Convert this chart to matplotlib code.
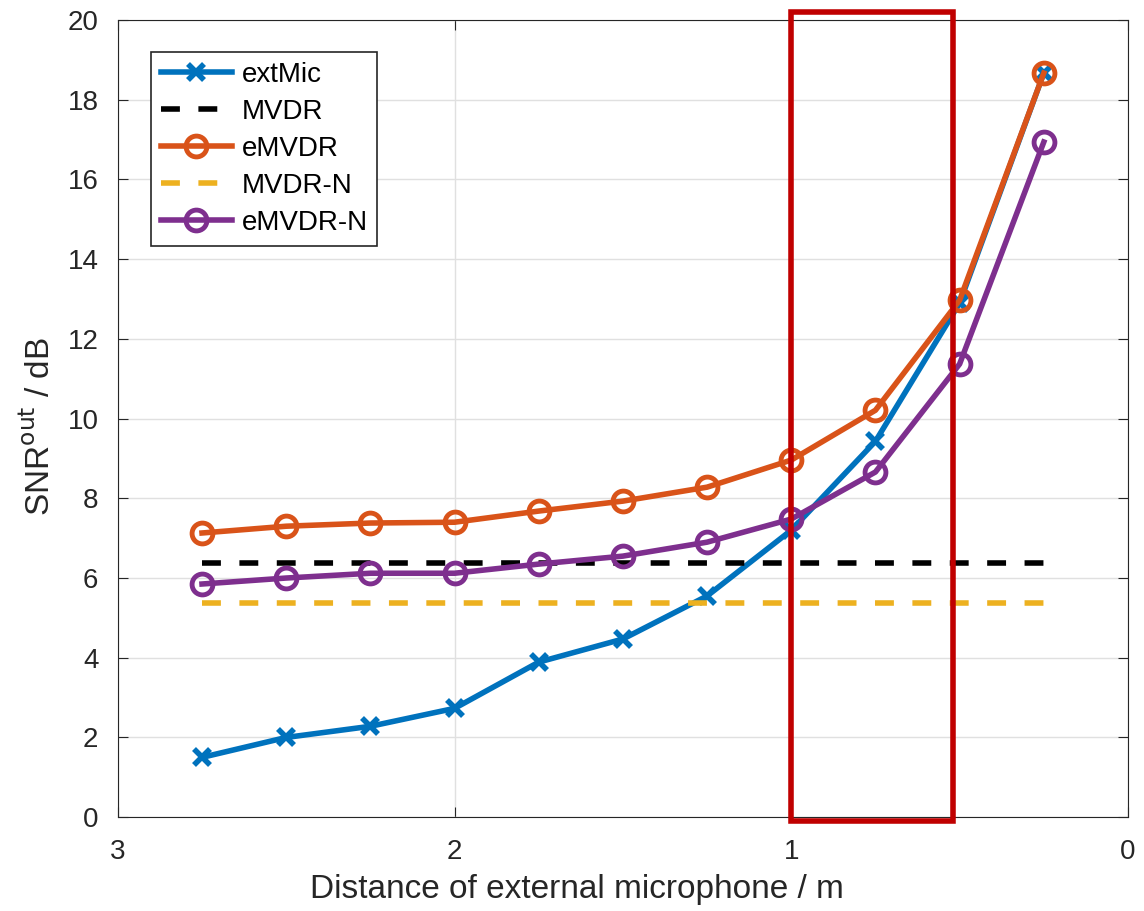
import matplotlib
matplotlib.use("Agg")
import matplotlib.pyplot as plt
from matplotlib.patches import Rectangle

plt.rcParams['font.family'] = ['Liberation Sans', 'DejaVu Sans']

# distances of the external microphone (m)
dist = [2.75, 2.5, 2.25, 2.0, 1.75, 1.5, 1.25, 1.0, 0.75, 0.5, 0.25]

# output SNR values (dB)
extMic = [1.5, 2.0, 2.28, 2.73, 3.89, 4.47, 5.55, 7.2, 9.43, 12.9, 18.67]
eMVDR = [7.13, 7.3, 7.38, 7.4, 7.68, 7.93, 8.28, 8.96, 10.21, 12.97, 18.67]
eMVDR_N = [5.85, 6.0, 6.12, 6.12, 6.35, 6.55, 6.9, 7.48, 8.66, 11.37, 16.94]
mvdr = 6.37
mvdr_n = 5.37

# highlighted range
box_x = [1.0, 0.52]
box_y = [-0.1, 20.2]

fig = plt.figure(figsize=(11.44, 9.11), dpi=100)
ax = fig.add_axes([0.103, 0.103, 0.883, 0.875])

lw = 4
dash = (0, (3.4, 3.33))
ax.plot(dist, extMic, color='#0072BD', lw=lw, marker='x', ms=11, mew=4, label='extMic')
ax.plot([dist[0], dist[-1]], [mvdr, mvdr], color='black', lw=lw, ls=dash, label='MVDR')
ax.plot(dist, eMVDR, color='#D95319', lw=lw, marker='o', ms=15, mew=3.5, mfc='none', label='eMVDR')
ax.plot([dist[0], dist[-1]], [mvdr_n, mvdr_n], color='#EDB120', lw=lw, ls=dash, label='MVDR-N')
ax.plot(dist, eMVDR_N, color='#7E2F8E', lw=lw, marker='o', ms=15, mew=3.5, mfc='none', label='eMVDR-N')

ax.add_patch(Rectangle((box_x[0], box_y[0]), box_x[1] - box_x[0], box_y[1] - box_y[0],
                       fill=False, edgecolor='#C00000', lw=4, clip_on=False, zorder=5))

ax.set_xlim(3, 0)
ax.set_ylim(0, 20)
ax.set_xticks([3, 2, 1, 0])
ax.set_yticks(range(0, 21, 2))
ax.grid(True, color='#E0E0E0', lw=1)
ax.set_axisbelow(True)
ax.tick_params(direction='in', top=True, right=True, labelsize=20, length=7, colors='#262626')
ax.tick_params(axis='x', pad=16)
ax.tick_params(axis='y', pad=14)
for s in ax.spines.values():
    s.set_color('#262626')

ax.set_xlabel('Distance of external microphone / m', fontsize=24, color='#262626')
ax.xaxis.set_label_coords(0.454, -0.071)
ax.set_ylabel(r'SNR$^{\rm out}$ / dB', fontsize=24, color='#262626')
ax.yaxis.set_label_coords(-0.06, 0.49)

leg = ax.legend(loc='upper left', bbox_to_anchor=(0.033, 0.96), fontsize=20, handlelength=2.55,
                fancybox=False, framealpha=1, edgecolor='#262626', borderaxespad=0,
                labelspacing=0.4, borderpad=0.35, handletextpad=0.35)
leg.get_frame().set_linewidth(1.2)

fig.savefig('out.png', dpi=100)
